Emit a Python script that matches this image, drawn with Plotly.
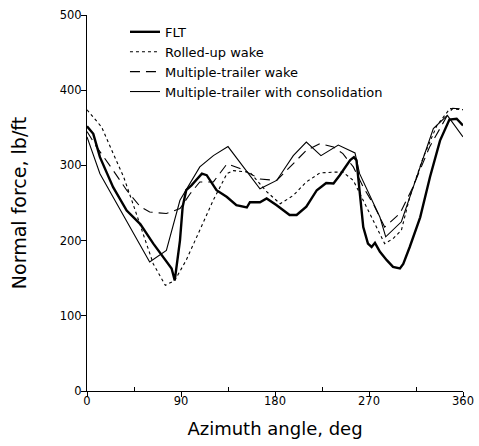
import plotly.graph_objects as go

flt_x = [0, 6, 12.4, 25, 38, 51, 63.5, 76, 81, 84, 89, 91.6, 95, 100, 110, 114.6, 124, 134, 143, 153, 156,
         165.6, 172, 181.6, 194, 200.7, 210, 220, 229, 236, 242, 252, 255.6, 258, 261, 264.5, 269, 272.5,
         275.7, 280.5, 287, 293, 299.6, 302.8, 309, 319, 328.4, 338, 347, 353.9, 360]
flt_y = [352, 342, 311, 271, 240, 222, 196, 171.5, 163, 147, 200, 245, 267, 273.5, 289, 287, 267, 258, 247, 244, 251,
         251, 256, 247, 234, 234, 245, 267, 276.6, 276, 287, 307, 311, 307, 262, 218, 196, 191.5,
         197, 185, 174, 165, 163, 169, 191.5, 231, 284.6, 333, 361, 362, 353]

rolled_x = [0, 14, 25, 35, 44, 54, 63.5, 75, 84, 95, 108, 121, 134, 140, 156, 172, 185, 197.5, 210, 223, 236,
            245, 255, 264.5, 277, 285, 293, 301, 309, 322, 335, 347.5, 360]
rolled_y = [374, 351, 316, 285, 249, 209, 169, 140.5, 147, 174, 214, 254, 289, 293, 291, 265, 249, 260, 278, 290, 291,
            291, 280, 253.6, 218, 196, 202.6, 213.7, 258, 311, 353, 375.5, 374]

mtw_x = [0, 9, 25, 38, 51, 60, 76, 89, 98.6, 108, 121, 134, 146.5, 165.6, 181.6, 194, 210, 223, 236, 245, 255,
         264.5, 274, 285, 299.6, 312, 328, 344, 350, 360]
mtw_y = [345, 325, 293.5, 267, 245, 238, 236, 242.5, 262, 278, 278, 302, 296, 282, 280, 298, 320, 329, 324.5, 315.6, 298,
         271, 249, 218, 236, 271, 324.5, 364, 376, 375]

cons_x = [0, 12.4, 60, 76, 89, 108, 121, 135, 165.6, 181.6, 197.5, 210, 224, 240.6, 256.6, 261, 280.5, 286, 301,
          315.6, 331.6, 345, 360]
cons_y = [338, 289, 171.5, 187, 253.6, 298, 313, 325, 269, 280, 313, 331, 313, 327, 316.5, 289, 231, 205, 225,
          284.6, 349, 366.6, 338]

names = ["FLT", "Rolled-up wake", "Multiple-trailer wake", "Multiple-trailer with consolidation"]

fig = go.Figure()
fig.add_trace(go.Scatter(x=flt_x, y=flt_y, mode="lines", name=names[0],
                         line=dict(color="black", width=2.4)))
fig.add_trace(go.Scatter(x=rolled_x, y=rolled_y, mode="lines", name=names[1],
                         line=dict(color="black", width=1.1, dash="3px,3px")))
fig.add_trace(go.Scatter(x=mtw_x, y=mtw_y, mode="lines", name=names[2],
                         line=dict(color="black", width=1.1, dash="10px,6px")))
fig.add_trace(go.Scatter(x=cons_x, y=cons_y, mode="lines", name=names[3],
                         line=dict(color="black", width=1.1)))

fig.update_layout(
    width=479, height=446,
    margin=dict(l=87, r=16, t=15, b=55),
    paper_bgcolor="white", plot_bgcolor="white",
    font=dict(family="DejaVu Sans, Liberation Sans, Arial, sans-serif", color="black"),
    showlegend=True,
    legend=dict(x=0.101, y=0.995, xanchor="left", yanchor="top", bgcolor="rgba(0,0,0,0)",
                font=dict(size=13), itemwidth=30, tracegroupgap=0),
    xaxis=dict(range=[0, 360], tickvals=[0, 90, 180, 270, 360], showgrid=False, zeroline=False,
               showline=True, linecolor="black", linewidth=1, ticks="outside", ticklen=5,
               tickcolor="black", tickfont=dict(size=11.5), automargin=False, ticklabelstandoff=-6,
               minor=dict(tickvals=[45, 135, 225, 315], ticks="inside", ticklen=4, tickcolor="black"),
               title=dict(text="Azimuth angle, deg", font=dict(size=18), standoff=15)),
    yaxis=dict(range=[0, 500], tickvals=[0, 100, 200, 300, 400, 500], showgrid=False, zeroline=False,
               showline=True, linecolor="black", linewidth=1, ticks="outside", ticklen=5,
               tickcolor="black", tickfont=dict(size=11.5), automargin=False, ticklabelstandoff=-3,
               title=dict(text="Normal force, lb/ft", font=dict(size=19), standoff=28)),
)

fig.write_html("out.html", config={"displayModeBar": False},
               post_script="document.body.style.margin='0';document.body.style.overflow='hidden';")
